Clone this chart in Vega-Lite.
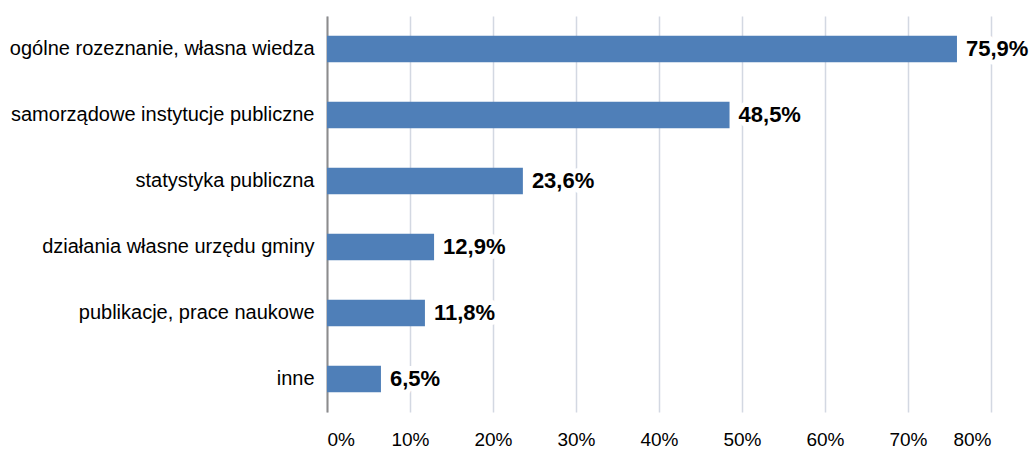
{
  "$schema": "https://vega.github.io/schema/vega-lite/v6.json",
  "width": 664,
  "height": 396,
  "autosize": {"type": "none"},
  "padding": {"left": 327, "top": 16, "right": 40, "bottom": 38},
  "background": "white",
  "config": {"view": {"stroke": null}, "font": "Liberation Sans"},
  "data": {"values": [
    {"source": "ogólne rozeznanie, własna wiedza", "value": 0.759, "label": "75,9%"},
    {"source": "samorządowe instytucje publiczne", "value": 0.485, "label": "48,5%"},
    {"source": "statystyka publiczna", "value": 0.236, "label": "23,6%"},
    {"source": "działania własne urzędu gminy", "value": 0.129, "label": "12,9%"},
    {"source": "publikacje, prace naukowe", "value": 0.118, "label": "11,8%"},
    {"source": "inne", "value": 0.065, "label": "6,5%"}
  ]},
  "encoding": {
    "y": {"field": "source", "type": "nominal", "sort": null,
      "scale": {"paddingInner": 0.6, "paddingOuter": 0.3},
      "axis": {"title": null, "ticks": false, "domainColor": "#8c8c8c", "domainWidth": 2, "labelLimit": 400,
        "labelFont": "Liberation Sans", "labelFontSize": 20, "labelColor": "#000000", "labelPadding": 13}},
    "x": {"field": "value", "type": "quantitative",
      "scale": {"domain": [0, 0.8], "nice": false},
      "axis": {"title": null, "format": ".0%", "values": [0,0.1,0.2,0.3,0.4,0.5,0.6,0.7,0.8], "labelOverlap": false, "labelBound": false,
        "domain": false, "ticks": false, "grid": true, "gridColor": "#d3d8e2", "gridWidth": 1.5,
        "labelFont": "Liberation Sans", "labelFontSize": 19, "labelColor": "#000000", "labelPadding": 18}}
  },
  "layer": [
    {"mark": {"type": "bar", "color": "#4f7fb8"}},
    {"mark": {"type": "text", "align": "left", "baseline": "middle", "dx": 9, "fontSize": 22, "fontWeight": "bold",
      "stroke": "white", "strokeWidth": 10, "strokeJoin": "round", "color": "white"},
     "encoding": {"text": {"field": "label"}}},
    {"mark": {"type": "text", "align": "left", "baseline": "middle", "dx": 9, "fontSize": 22, "fontWeight": "bold", "color": "#000000"},
     "encoding": {"text": {"field": "label"}}}
  ]
}
